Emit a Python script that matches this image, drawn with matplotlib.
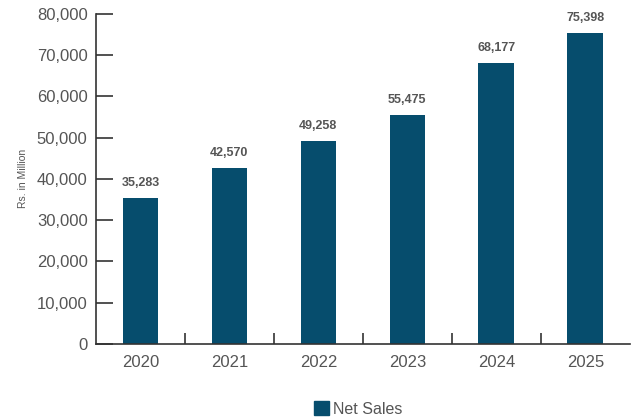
import matplotlib.pyplot as plt
from matplotlib.patches import Patch
from matplotlib.ticker import FuncFormatter, FixedLocator

years = ['2020', '2021', '2022', '2023', '2024', '2025']
net_sales = [35283, 42570, 49258, 55475, 68177, 75398]

bar_color = '#064d6d'
text_color = '#555555'
axis_color = '#333333'

plt.rcParams['font.family'] = ['Liberation Sans', 'DejaVu Sans']

fig = plt.figure(figsize=(6.31, 4.19), dpi=100)
ax = fig.add_axes([0.152, 0.179, 0.846, 0.788])

x = range(len(years))
ax.bar(x, net_sales, width=0.4, color=bar_color, zorder=2)

for xi, v in zip(x, net_sales):
    ax.text(xi, v + 2200, f'{v:,}', ha='center', va='bottom',
            fontsize=9, fontweight='bold', color=text_color)

ax.set_xlim(-0.5, len(years) - 0.5)
ax.set_ylim(0, 80000)
ax.set_yticks(range(0, 80001, 10000))
ax.yaxis.set_major_formatter(FuncFormatter(lambda v, p: f'{int(v):,}'))
ax.set_xticks(list(x))
ax.set_xticklabels(years)
ax.xaxis.set_minor_locator(FixedLocator([i + 0.5 for i in range(len(years) - 1)]))

ax.tick_params(axis='y', direction='in', length=12, width=1.2, colors=axis_color,
               labelcolor=text_color, labelsize=12, pad=6)
ax.tick_params(axis='x', which='major', length=0, labelcolor=text_color,
               labelsize=12, pad=8)
ax.tick_params(axis='x', which='minor', direction='in', length=8, width=1.2,
               colors=axis_color)

for side in ['top', 'right']:
    ax.spines[side].set_visible(False)
for side in ['left', 'bottom']:
    ax.spines[side].set_color(axis_color)
    ax.spines[side].set_linewidth(1.2)

ax.set_ylabel('Rs. in Million', fontsize=7.5, color=text_color, labelpad=6)

fig.legend(handles=[Patch(color=bar_color, label='Net Sales')],
           loc='center', bbox_to_anchor=(0.568, 0.024), frameon=False,
           fontsize=11.5, handlelength=0.9, handleheight=0.9,
           handletextpad=0.3, labelcolor=text_color)

fig.savefig('out.png', dpi=100)
